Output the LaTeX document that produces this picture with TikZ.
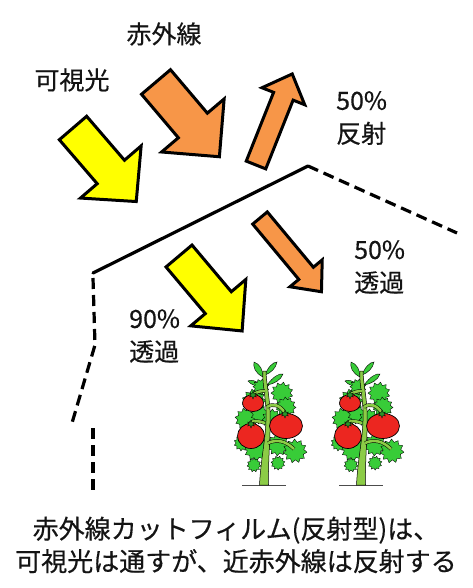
\documentclass[tikz,border=0pt]{standalone}
\usepackage{fontspec}
\setmainfont{Noto Sans CJK JP}[FakeBold=0.4]
\usetikzlibrary{shapes.geometric}

\definecolor{lightyellow}{RGB}{255,255,0}
\definecolor{iro}{RGB}{247,150,72}
\definecolor{leafgreen}{RGB}{56,204,56}
\definecolor{stemgreen}{RGB}{140,204,70}
\definecolor{capgreen}{RGB}{40,150,40}
\definecolor{tomred}{RGB}{236,38,32}
\definecolor{inkblack}{RGB}{20,20,20}

% block arrow: fill, tail centre, angle, length, shaft half width, head half width, head length
\newcommand\blockarrow[7]{%
  \begin{scope}[shift={#2},rotate=#3]
    \draw[arrowline,fill=#1] (0,-#5) -- ({#4-#7},-#5) -- ({#4-#7},-#6) -- (#4,0)
      -- ({#4-#7},#6) -- ({#4-#7},#5) -- (0,#5) -- cycle;
  \end{scope}}

\tikzset{
  arrowline/.style={draw=black, line width=3pt, line join=miter},
  film/.style={line width=3.2pt, black},
  filmdash/.style={film, dash pattern=on 11pt off 6pt},
  lbl/.style={text=inkblack, font=\fontsize{25}{33}\selectfont, align=left, inner sep=0pt},
  caption/.style={text=inkblack, font=\fontsize{26}{32.5}\selectfont, align=center, inner sep=0pt},
  leafstar/.style={star, star points=11, star point ratio=1.35, fill=leafgreen, draw=black,
    line width=0.35pt, inner sep=0pt},
  leaf/.style={fill=leafgreen, draw=black, line width=0.4pt},
  branch/.style={draw=black, line width=0.5pt, double=stemgreen, double distance=2.6pt},
  tomato/.style={fill=tomred, draw=black, line width=0.7pt},
  calyx/.style={star, star points=6, star point ratio=2.2, fill=capgreen, draw=black,
    line width=0.3pt, inner sep=0pt, minimum size=8pt},
  pics/tomatoplant/.style={code={
    % ground shadow
    \draw[black!70, line width=1pt] (-22,0) -- (22,0);
    % top leaves
    \draw[leaf] (-1,-108) .. controls (-9,-112) and (-11,-118) .. (-10,-123)
      .. controls (-4,-121) and (-1,-115) .. (-1,-108) -- cycle;
    \draw[leaf] (1,-110) .. controls (4,-118) and (9,-123) .. (13,-123)
      .. controls (12,-117) and (7,-112) .. (1,-110) -- cycle;
    \draw[leaf] (3,-100) .. controls (9,-108) and (15,-112) .. (19,-111)
      .. controls (17,-105) and (10,-101) .. (3,-100) -- cycle;
    \draw[leaf] (-2,-100) .. controls (-8,-104) and (-13,-106) .. (-16,-104)
      .. controls (-13,-100) and (-7,-98) .. (-2,-100) -- cycle;
    % dense leaf mass behind the stem and fruit
    \node[leafstar, minimum size=24pt, rotate=10] (-l1) at (-10,-84) {};
    \node[leafstar, minimum size=22pt, rotate=25] (-l2) at (18,-92) {};
    \node[leafstar, minimum size=20pt, rotate=5]  (-l3) at (22,-78) {};
    \node[leafstar, minimum size=22pt, rotate=15] (-l4) at (-18,-66) {};
    \node[leafstar, minimum size=18pt, rotate=40] (-l5) at (-4,-70) {};
    \node[leafstar, minimum size=20pt, rotate=30] (-l6) at (8,-66) {};
    \node[leafstar, minimum size=24pt, rotate=20] (-l7) at (-8,-36) {};
    \node[leafstar, minimum size=22pt, rotate=12] (-l8) at (14,-40) {};
    \node[leafstar, minimum size=24pt, rotate=35] (-l9) at (31,-34) {};
    \node[leafstar, minimum size=14pt, rotate=0]  (-l10) at (-10,-20) {};
    \node[leafstar, minimum size=14pt, rotate=18] (-l11) at (14,-22) {};
    \node[leafstar, minimum size=16pt, rotate=8]  (-l12) at (-22,-42) {};
    \node[leafstar, minimum size=16pt, rotate=22] (-l13) at (-3,-98) {};
    % main stem
    \draw[fill=stemgreen, draw=black, line width=0.5pt]
      (-4.5,0) .. controls (-3,-30) and (3,-50) .. (2,-75)
      .. controls (1,-92) and (-2,-104) .. (-1,-114)
      -- (2,-114) .. controls (2,-104) and (5,-92) .. (6,-75)
      .. controls (7,-50) and (4,-30) .. (4.5,0) -- cycle;
    % side branches
    \draw[branch] (3,-78) .. controls (9,-82) and (16,-80) .. (21,-72);
    \draw[branch] (1,-94) .. controls (-4,-94) and (-8,-93) .. (-11,-90);
    \draw[branch] (1,-62) .. controls (-5,-64) and (-10,-65) .. (-14,-62);
    \draw[branch] (4,-42) .. controls (13,-46) and (22,-44) .. (30,-36);
    % tomatoes with their calyxes
    \draw[tomato] (-11,-82) ellipse [x radius=10.5, y radius=8.5];
    \draw[tomato] (-13,-49) ellipse [x radius=13.5, y radius=12.5];
    \draw[tomato] (22,-59) ellipse [x radius=16.5, y radius=12.5];
    \node[calyx] (-c1) at (-11,-90) {};
    \node[calyx] (-c2) at (-13,-61) {};
    \node[calyx] (-c3) at (21,-71) {};
  }}
}

\begin{document}
\begin{tikzpicture}[x=1pt, y=-1pt]
  \useasboundingbox[fill=white] (0,0) rectangle (472,588);

  % greenhouse film
  \coordinate (eave) at (93,273);
  \coordinate (ridge) at (308,166);
  \coordinate (roofend) at (457,233);
  \coordinate (wallknee) at (95,345);
  \coordinate (wallfoot) at (72,423);
  \coordinate (posttop) at (93,428);
  \coordinate (postfoot) at (93,490);
  \draw[film, line cap=round] (eave) -- (ridge);
  \draw[filmdash] (ridge) -- (roofend);
  \draw[filmdash] ([yshift=-5pt]eave) -- (wallknee) -- (wallfoot);
  \draw[filmdash] (posttop) -- (postfoot);

  % incoming light
  \blockarrow{lightyellow}{(73,128)}{-49.3}{97}{18}{40}{39}
  \blockarrow{iro}{(156,82)}{-49.7}{98}{19}{41}{41}
  % reflected infrared
  \blockarrow{iro}{(256,165)}{68.3}{98}{10.5}{23}{24}
  % transmitted light
  \blockarrow{iro}{(260,218)}{-50.2}{96}{9.5}{21}{24}
  \blockarrow{lightyellow}{(179,256)}{-49.9}{98}{17}{36}{37}

  % labels
  \node[lbl] (ir) at (164,34) {赤外線};
  \node[lbl] (vis) at (72,80) {可視光};
  \node[lbl, anchor=west] (refl) at (336,118) {50\%\\反射};
  \node[lbl, anchor=west] (irtrans) at (354,267) {50\%\\透過};
  \node[lbl, anchor=west] (vistrans) at (129,336) {90\%\\透過};

  % tomato plants
  \pic (plantA) at (264,485) {tomatoplant};
  \pic (plantB) at (361,485) {tomatoplant};

  % caption
  \node[caption] (note) at (236,545) {赤外線カットフィルム(反射型)は、\\可視光は通すが、近赤外線は反射する};
\end{tikzpicture}
\end{document}
